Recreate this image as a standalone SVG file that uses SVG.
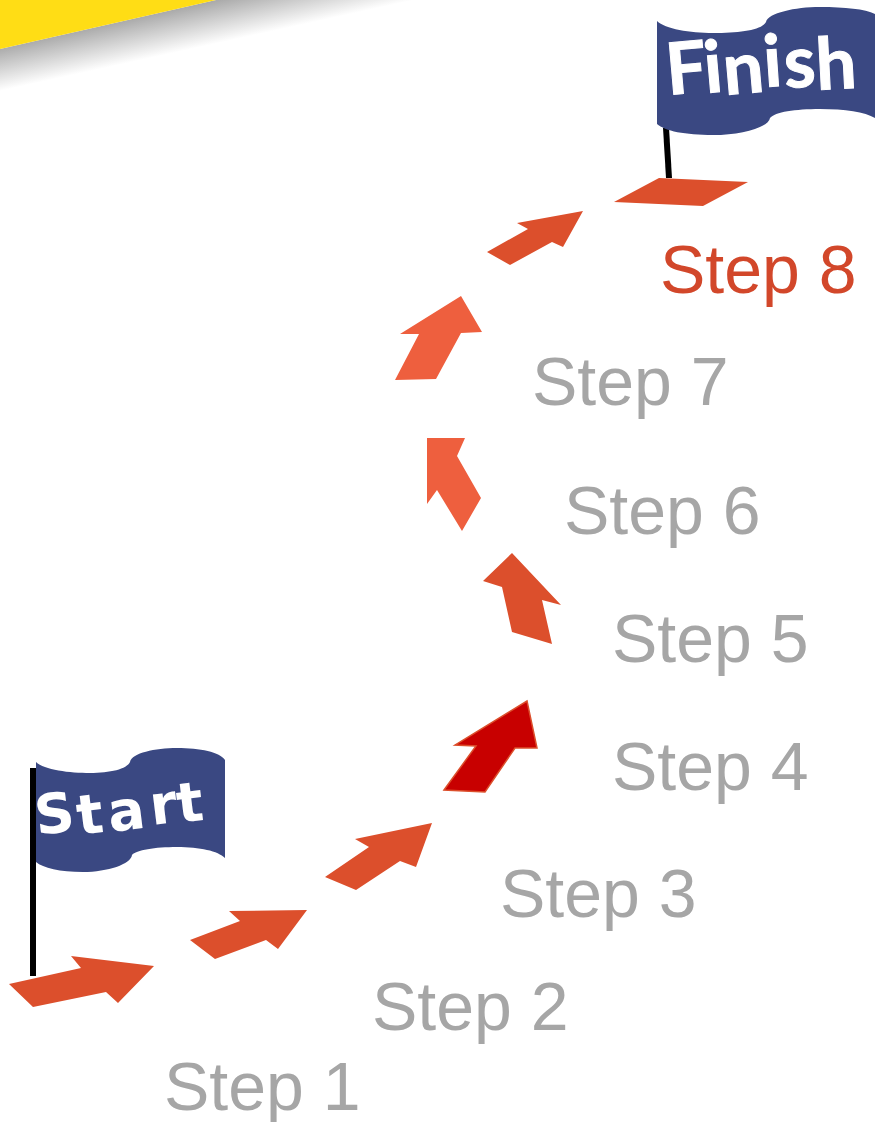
<svg xmlns="http://www.w3.org/2000/svg" width="875" height="1122" viewBox="0 0 875 1122">
<style>
.step{font-family:"Liberation Sans",Arial,sans-serif;font-size:68px;fill:#a6a6a6}
.arrow{fill:#dc4f2c}
.light{fill:#ee5f3e}
.flag{fill:#3a4882}
.pole{fill:#000}
</style>
<defs>
<linearGradient id="shade" gradientUnits="userSpaceOnUse" x1="100" y1="26" x2="109" y2="67">
<stop offset="0" stop-color="#aaaaaa"/>
<stop offset="1" stop-color="#ffffff"/>
</linearGradient>
</defs>
<rect width="875" height="1122" fill="#fff"/>
<g id="banner">
<polygon points="0,49 216,0 420,0 0,92" fill="url(#shade)"/>
<polygon points="0,0 216,0 0,49" fill="#ffdd15"/>
</g>
<g id="start-flag">
<polygon class="pole" points="30,768 36,768 36,976 30,976"/>
<path class="flag" d="M36,762 C44,770 70,773 90,773 C110,773 127,769 130,762 C132,753 155,748 177,748 C200,748 220,752 225,760 L225,858 C218,851 200,847 177,847 C155,847 136,850 132,855 C131,864 108,872 83,872 C60,872 43,868 36,862 Z"/>
<text font-family="'DejaVu Sans','Open Sans',sans-serif" font-weight="700" fill="#fff" font-size="55" x="37 79 110 152 179" y="835 835 832 825 823" rotate="-7 -7 -7 -7 -7">Start</text>
</g>
<g id="finish-flag">
<polygon class="pole" points="663,128 669,128 672,178 666,178"/>
<path class="flag" d="M657,21 C665,29 690,33 713,33 C740,33 762,30 766,22 C768,13 795,7 820,7 C845,7 865,9 875,14 L875,118 C865,112 845,109 820,109 C795,109 775,112 770,118 C769,127 742,135 713,135 C685,135 665,131 657,124 Z"/>
<text font-family="Lato,'Open Sans',sans-serif" font-weight="700" fill="#fff" stroke="#fff" stroke-width="1" font-size="72" x="668 706 725 765 785 817" y="95 93 95 87 88 90" rotate="-5 -5 -5 -4 -3 -3">Finish</text>
</g>
<g id="connectors"/>
<g id="step-1">
<polygon class="arrow" points="9,984 81,968 71,956 154,966 118,1003 106,992 33,1007"/>
<text class="step" x="164" y="1110">Step 1</text>
</g>
<g id="step-2">
<polygon class="arrow" points="190,940 240,921 229,911 307,910 278,949 266,940 215,959"/>
<text class="step" x="372" y="1030">Step 2</text>
</g>
<g id="step-3">
<polygon class="arrow" points="325,877 369,847 355,839 432,823 416,867 400,861 356,890"/>
<text class="step" x="500" y="917">Step 3</text>
</g>
<g id="step-4">
<polygon points="444,790 476,746 455,745 527,701 537,748 515,748 485,792" fill="#c80000" stroke="#dc4f2c" stroke-width="1.5"/>
<text class="step" x="612" y="790">Step 4</text>
</g>
<g id="step-5">
<polygon class="arrow" points="552,644 542,600 561,605 512,553 483,581 502,587 512,632"/>
<text class="step" x="612" y="662">Step 5</text>
</g>
<g id="step-6">
<polygon class="light" points="462,531 481,498 457,456 465,438 427,438 427,504 437,490"/>
<text class="step" x="564" y="534">Step 6</text>
</g>
<g id="step-7">
<polygon class="light" points="395,380 419,334 400,334 461,296 482,332 461,333 436,379"/>
<text class="step" x="532" y="405">Step 7</text>
</g>
<g id="step-8">
<polygon class="arrow" points="487,252 528,229 517,223 583,211 563,247 552,242 510,265"/>
<polygon class="arrow" points="614,202 659,178 748,182 703,206"/>
<text class="step" x="660" y="293" style="fill:#d2472a">Step 8</text>
</g>
</svg>
